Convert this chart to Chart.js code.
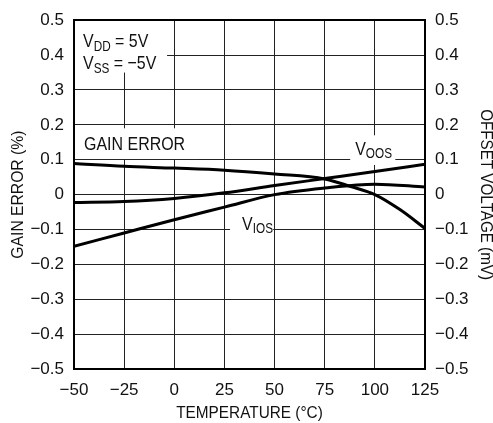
<!DOCTYPE html>
<html><head><meta charset="utf-8">
<script src="https://cdn.jsdelivr.net/npm/chart.js@4.4.1/dist/chart.umd.min.js"></script>
<style>html,body{margin:0;padding:0;background:#fff}#wrap{width:493px;height:423px}</style>
</head><body><div id="wrap"><canvas id="c" width="493" height="423"></canvas></div>
<script>
// ---- data ----
const temperatures = [-50, -25, 0, 25, 50, 75, 100, 125];
const gainTemps = [-50, -25, 0, 25, 50, 75, 87.5, 100, 112.5, 125];
const gainError = [0.089, 0.081, 0.076, 0.070, 0.059, 0.045, 0.024, 0.0, -0.043, -0.097];
const vOOS = [-0.023, -0.020, -0.011, 0.005, 0.026, 0.046, 0.066, 0.087];
const vIOS = [-0.148, -0.110, -0.072, -0.036, 0.0, 0.019, 0.030, 0.022];
const xTicks = [-50, -25, 0, 25, 50, 75, 100, 125];
const yTicks = [-0.5, -0.4, -0.3, -0.2, -0.1, 0, 0.1, 0.2, 0.3, 0.4, 0.5];
const xTitle = 'TEMPERATURE (°C)';
const yLeftTitle = 'GAIN ERROR (%)';
const yRightTitle = 'OFFSET VOLTAGE (mV)';
const seriesNames = ['GAIN ERROR', 'V_OOS', 'V_IOS'];

const FONT = '"Liberation Sans", Arial, sans-serif';
const INK = '#111';

function fmtY(v) {
  if (Math.abs(v) < 1e-9) return '0';
  return (v < 0 ? '\u2212' : '') + Math.abs(v).toFixed(1);
}
function fmtX(v) {
  return (v < 0 ? '\u2212' : '') + Math.abs(v);
}

// annotations in data coordinates (box corners, text anchor)
const notes = [
  {box: [-50, -3.6, 0.5, 0.35], lines: [
    {main: 'V', sub: 'DD', rest: ' = 5V', x: -45.5, y: 0.437},
    {main: 'V', sub: 'SS', rest: ' = \u22125V', x: -45.5, y: 0.374}]},
  {box: [-50, 12, 0.19, 0.102], lines: [{main: 'GAIN ERROR', sub: '', rest: '', x: -45, y: 0.143}]},
  {box: [87.7, 110.2, 0.17, 0.085], lines: [{main: 'V', sub: 'OOS', rest: '', x: 90.2, y: 0.129}]},
  {box: [27.8, 49.3, -0.055, -0.13], lines: [{main: 'V', sub: 'IOS', rest: '', x: 33.8, y: -0.086}]}
];

// draw text horizontally condensed, returns advance width
function txt(ctx, s, x, y, size, sx) {
  ctx.save();
  ctx.font = size + 'px ' + FONT;
  ctx.translate(x, y);
  ctx.scale(sx, 1);
  ctx.fillText(s, 0, 0);
  const w = ctx.measureText(s).width * sx;
  ctx.restore();
  return w;
}

const notesPlugin = {
  id: 'notes',
  beforeDatasetsDraw(chart) {
    const ctx = chart.ctx, xs = chart.scales.x, ys = chart.scales.y, a = chart.chartArea;
    ctx.save();
    notes.forEach(n => {
      const x0 = xs.getPixelForValue(n.box[0]), x1 = xs.getPixelForValue(n.box[1]);
      const y0 = ys.getPixelForValue(n.box[2]), y1 = ys.getPixelForValue(n.box[3]);
      ctx.fillStyle = '#fff';
      ctx.fillRect(x0, y0, x1 - x0, y1 - y0);
    });
    ctx.fillStyle = INK;
    ctx.textBaseline = 'middle';
    ctx.textAlign = 'left';
    notes.forEach(n => {
      n.lines.forEach(l => {
        let px = xs.getPixelForValue(l.x), py = ys.getPixelForValue(l.y);
        px += txt(ctx, l.main, px, py, 19, 0.84);
        if (l.sub) px += txt(ctx, l.sub, px, py + 5, 14, 0.84);
        if (l.rest) txt(ctx, l.rest, px, py, 19, 0.84);
      });
    });
    ctx.strokeStyle = '#000';
    ctx.lineWidth = 2;
    ctx.strokeRect(Math.round(a.left), Math.round(a.top), Math.round(a.right) - Math.round(a.left), Math.round(a.bottom) - Math.round(a.top));
    ctx.restore();
  },
  afterDraw(chart) {
    const ctx = chart.ctx, a = chart.chartArea;
    const cy = (a.top + a.bottom) / 2;
    ctx.save();
    ctx.fillStyle = INK;
    ctx.textAlign = 'center';
    ctx.textBaseline = 'middle';
    txt(ctx, xTitle, (a.left + a.right) / 2, 414, 16, 0.96);
    ctx.save();
    ctx.translate(19, cy);
    ctx.rotate(-Math.PI / 2);
    txt(ctx, yLeftTitle, 0, 0, 16, 0.98);
    ctx.restore();
    ctx.save();
    ctx.translate(485, cy);
    ctx.rotate(Math.PI / 2);
    txt(ctx, yRightTitle, 0, 0, 16, 0.95);
    ctx.restore();
    ctx.restore();
  }
};

function pts(xs, ys) { return xs.map((t, i) => ({x: t, y: ys[i]})); }
const lineStyle = {borderColor: '#000', borderWidth: 3, pointRadius: 0, fill: false, cubicInterpolationMode: 'monotone'};

new Chart(document.getElementById('c'), {
  type: 'line',
  data: {
    datasets: [
      Object.assign({label: seriesNames[0], data: pts(gainTemps, gainError), yAxisID: 'y'}, lineStyle),
      Object.assign({label: seriesNames[1], data: pts(temperatures, vOOS), yAxisID: 'y1'}, lineStyle),
      Object.assign({label: seriesNames[2], data: pts(temperatures, vIOS), yAxisID: 'y1'}, lineStyle)
    ]
  },
  options: {
    responsive: false,
    animation: false,
    devicePixelRatio: 1,
    layout: {padding: {top: 17, left: 0, right: 0, bottom: 0}},
    plugins: {legend: {display: false}, tooltip: {enabled: false}},
    scales: {
      x: {
        type: 'linear', min: -50, max: 125,
        afterBuildTicks: s => { s.ticks = xTicks.map(v => ({value: v})); },
        afterFit: s => { s.height = 54; },
        ticks: {callback: fmtX, color: INK, font: {family: FONT, size: 17}, padding: 11, maxRotation: 0, autoSkip: false},
        grid: {color: '#222', lineWidth: 1, drawTicks: false},
        border: {display: false}
      },
      y: {
        type: 'linear', position: 'left', min: -0.5, max: 0.5,
        afterBuildTicks: s => { s.ticks = yTicks.map(v => ({value: v})); },
        afterFit: s => { s.width = 74; },
        ticks: {callback: fmtY, color: INK, font: {family: FONT, size: 17}, padding: 10, autoSkip: false},
        grid: {color: '#222', lineWidth: 1, drawTicks: false},
        border: {display: false}
      },
      y1: {
        type: 'linear', position: 'right', min: -0.5, max: 0.5,
        afterBuildTicks: s => { s.ticks = yTicks.map(v => ({value: v})); },
        afterFit: s => { s.width = 68; },
        ticks: {callback: fmtY, color: INK, font: {family: FONT, size: 17}, padding: 10, autoSkip: false},
        grid: {display: false, drawTicks: false},
        border: {display: false}
      }
    }
  },
  plugins: [notesPlugin]
});
</script>
</body></html>
